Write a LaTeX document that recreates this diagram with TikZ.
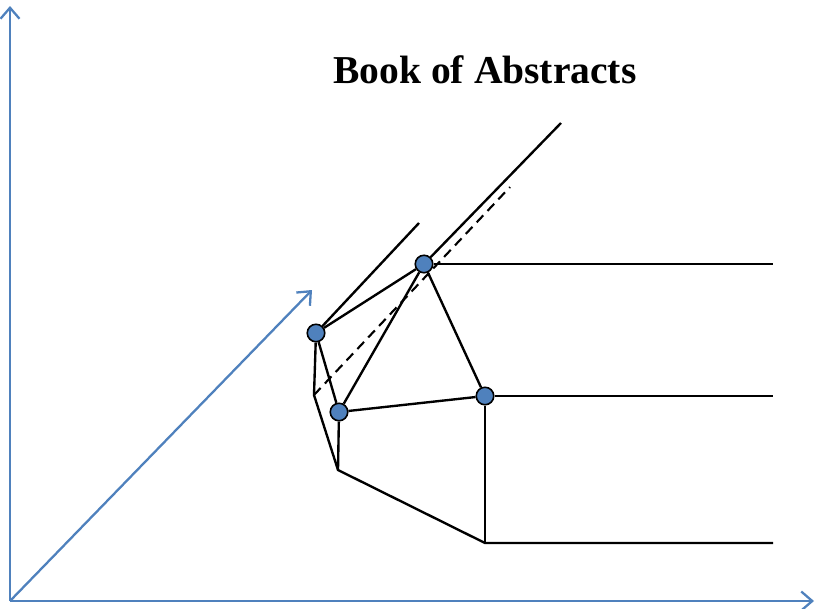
\documentclass[tikz,border=0pt]{standalone}
\usepackage{fontspec}
\setmainfont{Liberation Serif}
\usetikzlibrary{arrows.meta, positioning}
\definecolor{axisBlue}{RGB}{79,129,189}

\begin{document}
\begin{tikzpicture}[x=0.02cm, y=-0.02cm, line width=1.35pt,
    dot/.style={circle, draw=black, fill=axisBlue, line width=0.9pt, minimum size=0.35cm, inner sep=0pt},
    axisLine/.style={draw=axisBlue, line width=1.3pt, -{Straight Barb[length=2.2mm, width=3.8mm]}}]
    \useasboundingbox (0,0) rectangle (816,609);

    % axes and the blue vector
    \coordinate (origin) at (10,601);
    \coordinate (yEnd) at (10,6);
    \coordinate (xEnd) at (814,601);
    \coordinate (vecEnd) at (312,290);
    \draw [axisLine] (origin) -- (yEnd);
    \draw [axisLine] (origin) -- (xEnd);
    \draw [axisLine] (origin) -- (vecEnd);

    \node [font=\fontsize{22.5}{27}\selectfont\bfseries] (title) at (485,70) {Book of Abstracts};

    % corner points
    \coordinate (leftKink) at (314,395);
    \coordinate (lowKink) at (338,470);
    \coordinate (bottomKink) at (485,543);
    \coordinate (shortEnd) at (419,223);
    \coordinate (longEnd) at (561,123);
    \coordinate (dashEnd) at (510,187);
    \coordinate (topRight) at (773,264);
    \coordinate (midRight) at (773,396);
    \coordinate (lowRight) at (773,543);

    \draw [dash pattern=on 5.5pt off 3.5pt, line width=1.2pt] (leftKink) -- (dashEnd);

    \node [dot] (leftDot) at (316,333) {};
    \node [dot] (topDot) at (424,264) {};
    \node [dot] (lowDot) at (339,412) {};
    \node [dot] (rightDot) at (485,396) {};

    \draw (leftDot) -- (shortEnd);
    \draw (topDot) -- (longEnd);
    \draw (leftDot) -- (topDot);
    \draw (leftDot) -- (lowDot);
    \draw (lowDot) -- (topDot);
    \draw (lowDot) -- (rightDot);
    \draw (topDot) -- (rightDot);
    \draw (leftDot) -- (leftKink) -- (lowKink) -- (bottomKink) -- (lowRight);
    \draw (lowDot) -- (lowKink);
    \draw (rightDot) -- (bottomKink);
    \draw (topDot) -- (topRight);
    \draw (rightDot) -- (midRight);
\end{tikzpicture}
\end{document}
